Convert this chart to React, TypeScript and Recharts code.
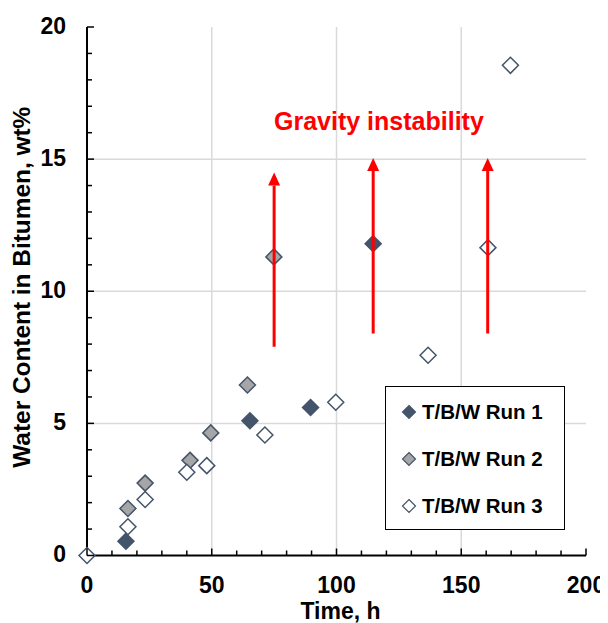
import React from 'react';
import { ScatterChart, Scatter, XAxis, YAxis, CartesianGrid, Legend, ReferenceDot } from 'recharts';

// values
const run1Time = [15.6, 65.3, 89.6, 114.7];
const run1Water = [0.54, 5.1, 5.6, 11.8];
const run2Time = [16.4, 23.3, 41.3, 49.6, 64.3, 74.9];
const run2Water = [1.78, 2.74, 3.6, 4.64, 6.45, 11.3];
const run3Time = [0, 16.4, 23.3, 40, 48, 71.3, 99.7, 136.7, 160.7, 169.7];
const run3Water = [0, 1.09, 2.12, 3.15, 3.4, 4.56, 5.8, 7.58, 11.65, 18.55];

const arrowTime = [75, 114.7, 160.6];
const arrowFrom = [7.9, 8.4, 8.4];
const arrowTo = [14.0, 14.55, 14.55];

const xTicks = [0, 10, 20, 30, 40, 50, 60, 70, 80, 90, 100, 110, 120, 130, 140, 150, 160, 170, 180, 190, 200];
const yTicks = [0, 1, 2, 3, 4, 5, 6, 7, 8, 9, 10, 11, 12, 13, 14, 15, 16, 17, 18, 19, 20];
const xGrid = [50, 100, 150];
const yGrid = [5, 10, 15];
const xLabelStep = 50;
const yLabelStep = 5;

const FONT = '"Liberation Sans", Arial, sans-serif';
const EDGE = '#44546A';

const toPoints = (xs: number[], ys: number[]) => xs.map((x, i) => ({ x, y: ys[i] }));

const SERIES = [
  { name: 'T/B/W Run 1', data: toPoints(run1Time, run1Water), fill: EDGE },
  { name: 'T/B/W Run 2', data: toPoints(run2Time, run2Water), fill: '#A6A6A6' },
  { name: 'T/B/W Run 3', data: toPoints(run3Time, run3Water), fill: '#FFFFFF' },
];

const diamond = (cx: number, cy: number, r: number) =>
  `${cx},${cy - r} ${cx + r},${cy} ${cx},${cy + r} ${cx - r},${cy}`;

const makeDiamond = (fill: string) => (props: any) => {
  const { cx, cy } = props;
  if (cx == null || cy == null) return <g />;
  return <polygon points={diamond(cx, cy, 8)} fill={fill} stroke={EDGE} strokeWidth={1.5} />;
};

const ArrowHead = (props: any) => {
  const { cx, cy, payload } = props;
  if (!payload || !payload.head) return <g />;
  return <polygon points={`${cx - 6},${cy} ${cx + 6},${cy} ${cx},${cy - 13}`} fill="#FF0000" />;
};

const XTick = (props: any) => {
  const { x, y, payload } = props;
  const major = payload.value % xLabelStep === 0;
  return (
    <g>
      <line x1={x} y1={y} x2={x} y2={y - (major ? 7 : 5)} stroke="#000" strokeWidth={1.5} />
      {major && (
        <text x={x} y={y + 37.5} textAnchor="middle" fontSize={23} fontWeight="bold" fontFamily={FONT} fill="#000">
          {payload.value}
        </text>
      )}
    </g>
  );
};

const YTick = (props: any) => {
  const { x, y, payload } = props;
  const major = payload.value % yLabelStep === 0;
  return (
    <g>
      <line x1={x} y1={y} x2={x + (major ? 7 : 5)} y2={y} stroke="#000" strokeWidth={1.5} />
      {major && (
        <text x={x - 21} y={y + 6.5} textAnchor="end" fontSize={23} fontWeight="bold" fontFamily={FONT} fill="#000">
          {payload.value}
        </text>
      )}
    </g>
  );
};

const LegendBox = (props: any) => {
  const items = (props.payload || []).filter((p: any) => SERIES.some((s) => s.name === p.value));
  return (
    <svg width={180} height={144} style={{ display: 'block' }}>
      <rect x={0.5} y={0.5} width={179} height={143} fill="#FFFFFF" stroke="#000" strokeWidth={1} />
      {items.map((p: any, i: number) => {
        const s = SERIES.find((d) => d.name === p.value)!;
        const cy = 26 + i * 47;
        return (
          <g key={p.value}>
            <polygon points={diamond(24, cy, 6.5)} fill={s.fill} stroke={EDGE} strokeWidth={1.2} />
            <text x={37} y={cy + 7} fontSize={20.5} fontWeight="bold" fontFamily={FONT} fill="#000">
              {p.value}
            </text>
          </g>
        );
      })}
    </svg>
  );
};

export default function App() {
  return (
    <div style={{ width: 600, height: 615 }}>
      <ScatterChart width={600} height={615} margin={{ top: 19, right: 22, left: 19, bottom: 17.5 }}>
        <CartesianGrid
          horizontal
          vertical
          horizontalValues={yGrid}
          verticalValues={xGrid}
          stroke="#D9D9D9"
          strokeWidth={1.5}
        />
        <XAxis
          type="number"
          dataKey="x"
          domain={[0, 200]}
          ticks={xTicks}
          interval={0}
          height={50}
          tickSize={0}
          tickMargin={0}
          tickLine={false}
          tick={<XTick />}
          axisLine={{ stroke: '#000', strokeWidth: 2 }}
          label={{
            content: (p: any) => {
              const vb = p.viewBox || {};
              return (
                <text x={vb.x + vb.width / 2 + 4} y={vb.y + 63.5} textAnchor="middle" fontSize={23} fontWeight="bold" fontFamily={FONT} fill="#000">
                  Time, h
                </text>
              );
            },
          }}
        />
        <XAxis xAxisId="top" orientation="top" type="number" domain={[0, 200]} height={0} tick={false} tickLine={false} axisLine={{ stroke: '#000', strokeWidth: 1 }} />
        <YAxis
          type="number"
          dataKey="y"
          domain={[0, 20]}
          ticks={yTicks}
          interval={0}
          width={60}
          tickSize={0}
          tickMargin={0}
          tickLine={false}
          tick={<YTick />}
          axisLine={{ stroke: '#000', strokeWidth: 2 }}
          label={{
            content: (p: any) => {
              const vb = p.viewBox || {};
              const x0 = vb.x + 3;
              const y0 = vb.y + vb.height / 2 - 4;
              return (
                <text
                  x={x0}
                  y={y0}
                  transform={`rotate(-90, ${x0}, ${y0})`}
                  textAnchor="middle"
                  fontSize={24}
                  fontWeight="bold"
                  fontFamily={FONT}
                  fill="#000"
                  textLength={361}
                  lengthAdjust="spacingAndGlyphs"
                >
                  Water Content in Bitumen, wt%
                </text>
              );
            },
          }}
        />
        <YAxis yAxisId="right" orientation="right" type="number" domain={[0, 20]} width={0} tick={false} tickLine={false} axisLine={{ stroke: '#000', strokeWidth: 1 }} />
        {SERIES.map((s) => (
          <Scatter key={s.name} name={s.name} data={s.data} shape={makeDiamond(s.fill)} fill={s.fill} isAnimationActive={false} />
        ))}
        {arrowTime.map((t, i) => (
          <Scatter
            key={`arrow-${i}`}
            name={`arrow-${i}`}
            legendType="none"
            data={[{ x: t, y: arrowFrom[i] }, { x: t, y: arrowTo[i], head: true }]}
            line={{ stroke: '#FF0000', strokeWidth: 3 }}
            lineType="joint"
            shape={<ArrowHead />}
            fill="#FF0000"
            isAnimationActive={false}
          />
        ))}
        <ReferenceDot
          x={117}
          y={16.4}
          r={0}
          shape={(p: any) => (
            <text x={p.cx} y={p.cy + 7.5} textAnchor="middle" fontSize={25} fontWeight="bold" fontFamily={FONT} fill="#FF0000">
              Gravity instability
            </text>
          )}
        />
        <Legend
          layout="vertical"
          align="center"
          verticalAlign="middle"
          content={<LegendBox />}
          wrapperStyle={{ position: 'absolute', left: 377, top: 378, width: 180, height: 144 }}
        />
      </ScatterChart>
    </div>
  );
}
